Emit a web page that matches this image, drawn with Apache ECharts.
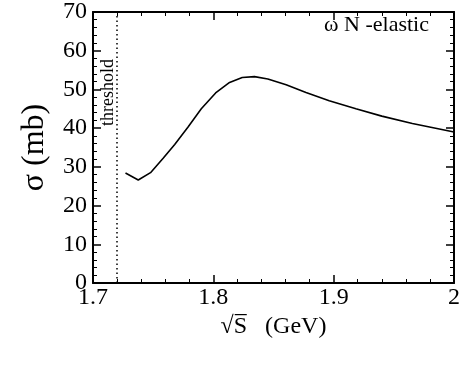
<!DOCTYPE html>
<html>
<head>
<meta charset="utf-8">
<script src="https://cdn.jsdelivr.net/npm/echarts@6/dist/echarts.min.js"></script>
<style>
  html, body { margin: 0; padding: 0; background: #fff; }
  #chart { width: 463px; height: 385px; }
</style>
</head>
<body>
<div id="chart"></div>
<script>
// sqrt(s) in GeV and sigma in mb
var sqrtS = [1.727, 1.7376, 1.7478, 1.7583, 1.7679, 1.779, 1.790, 1.8019, 1.8135, 1.824, 1.8342, 1.8453, 1.8605, 1.877, 1.8963, 1.9185, 1.940, 1.9654, 2.0];
var sigma = [28.4, 26.6, 28.5, 32.2, 35.8, 40.3, 45.0, 49.1, 51.8, 53.1, 53.3, 52.7, 51.2, 49.2, 47.1, 45.0, 43.1, 41.2, 39.0];
var threshold = 1.722;
var xTicks = [1.7, 1.8, 1.9, 2];
var yTicks = [0, 10, 20, 30, 40, 50, 60, 70];

var font = 'Liberation Serif';
var chart = echarts.init(document.getElementById('chart'));

var points = sqrtS.map(function (x, i) { return [x, sigma[i]]; });

function xAxisBase(show) {
  return {
    type: 'value',
    min: xTicks[0],
    max: xTicks[xTicks.length - 1],
    interval: 0.1,
    axisLine: { show: true, onZero: false, lineStyle: { color: '#000', width: 2 } },
    axisTick: { show: true, inside: true, length: 8, lineStyle: { color: '#000', width: 1.5 } },
    minorTick: { show: true, splitNumber: 5, length: 4, lineStyle: { color: '#000', width: 1 } },
    splitLine: { show: false },
    axisLabel: {
      show: show, color: '#000', fontFamily: font, fontSize: 24, margin: 3,
      showMinLabel: true, showMaxLabel: true,
      formatter: function (v) { return String(Math.round(v * 10) / 10); }
    }
  };
}
function yAxisBase(show) {
  return {
    type: 'value',
    min: yTicks[0],
    max: yTicks[yTicks.length - 1],
    interval: 10,
    axisLine: { show: true, onZero: false, lineStyle: { color: '#000', width: 2 } },
    axisTick: { show: true, inside: true, length: 8, lineStyle: { color: '#000', width: 1.5 } },
    minorTick: { show: true, splitNumber: 5, length: 4, lineStyle: { color: '#000', width: 1 } },
    splitLine: { show: false },
    axisLabel: { show: show, color: '#000', fontFamily: font, fontSize: 24, margin: 6 }
  };
}

var xBottom = xAxisBase(true);
xBottom.position = 'bottom';
xBottom.name = '\u221AS\u0305   (GeV)';
xBottom.nameLocation = 'middle';
xBottom.nameGap = 27;
xBottom.nameTextStyle = { color: '#000', fontFamily: font, fontSize: 24 };
var xTop = xAxisBase(false);
xTop.position = 'top';

var yLeft = yAxisBase(true);
yLeft.position = 'left';
yLeft.name = '\u03C3 (mb)';
yLeft.nameLocation = 'middle';
yLeft.nameGap = 42;
yLeft.nameTextStyle = { color: '#000', fontFamily: font, fontSize: 32 };
var yRight = yAxisBase(false);
yRight.position = 'right';

chart.setOption({
  animation: false,
  backgroundColor: '#fff',
  grid: { left: 93, right: 8, top: 10, bottom: 102 },
  xAxis: [xBottom, xTop],
  yAxis: [yLeft, yRight],
  graphic: [{
    type: 'text', right: 34, top: 14,
    style: { text: '\u03C9 N -elastic', fill: '#000', font: '22px "Liberation Serif"' }
  }],
  series: [{
    type: 'line',
    xAxisIndex: 0,
    yAxisIndex: 0,
    data: points,
    symbol: 'none',
    smooth: false,
    lineStyle: { color: '#000', width: 1.6 },
    markLine: {
      silent: true,
      symbol: 'none',
      lineStyle: { color: '#000', type: [1.5, 3], width: 1.5 },
      label: {
        show: true,
        position: 'insideEndTop',
        formatter: 'threshold',
        color: '#000',
        fontFamily: font,
        fontSize: 18,
        distance: [47, 0]
      },
      data: [{ xAxis: threshold }]
    }
  }]
});
</script>
</body>
</html>
